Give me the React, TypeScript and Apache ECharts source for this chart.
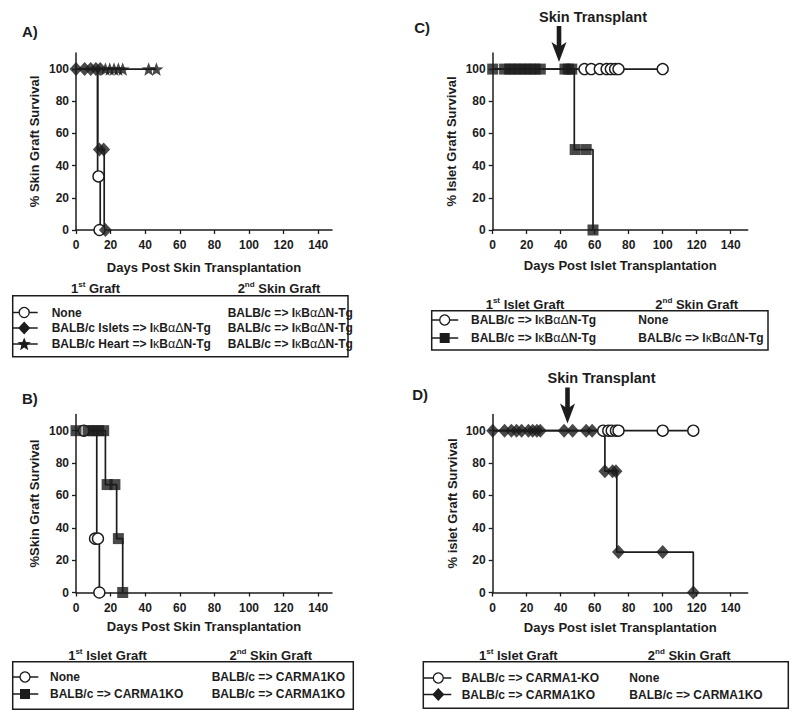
import { useEffect, useRef } from 'react';
import * as echarts from 'echarts';

const FONT = '"Liberation Sans", Arial, Helvetica, sans-serif';
const INK = '#1c1c1c';

// ---------------- data (day, % survival) ----------------
// Panel A
const aNoneCurve = [[0, 100], [12.5, 33.3], [14, 0]];
const aNoneMarks = [[13, 33.3], [13.6, 0]];
const aIsletsCurve = [[0, 100], [12.5, 50], [16.3, 0]];
const aIsletsMarks = [[0, 100], [5, 100], [8.5, 100], [11.5, 100], [14, 100], [13.5, 50], [16, 50], [17, 0]];
const aHeartCurve = [[0, 100], [46.5, 100]];
const aHeartMarks = [[17, 100], [19.5, 100], [22, 100], [24.5, 100], [27, 100], [42, 100], [46.5, 100]];

// Panel B
const bNoneCurve = [[0, 100], [12, 33.3], [13.5, 0]];
const bNoneMarks = [[4.5, 100], [11, 33.3], [12.7, 33.3], [13.5, 0]];
const bKoCurve = [[0, 100], [17, 66.7], [23.5, 33.3], [27, 0]];
const bKoMarks = [[0, 100], [7, 100], [10, 100], [13, 100], [16, 100], [18, 66.7], [22.5, 66.7], [24.5, 33.3], [27, 0]];

// Panel C
const cNoneCurve = [[0, 100], [100, 100]];
const cNoneMarks = [[54, 100], [58, 100], [63, 100], [67, 100], [69.5, 100], [72, 100], [74, 100], [100, 100]];
const cTgCurve = [[0, 100], [48, 50], [59, 0]];
const cTgMarks = [[0, 100], [7, 100], [10, 100], [13, 100], [16, 100], [19, 100], [22, 100], [25, 100], [28, 100],
  [42.5, 100], [44.5, 100], [46.5, 100], [48.5, 50], [55, 50], [59, 0]];
const cSkinTransplantDay = 39;

// Panel D
const dNoneCurve = [[0, 100], [118, 100]];
const dNoneMarks = [[65, 100], [68, 100], [70, 100], [72.5, 100], [74, 100], [100, 100], [118, 100]];
const dKoCurve = [[0, 100], [66, 75], [73, 25], [118, 0]];
const dKoMarks = [[0, 100], [7, 100], [11, 100], [14, 100], [17, 100], [21, 100], [23.5, 100], [26, 100], [28, 100],
  [42, 100], [47, 100], [55, 100], [58.5, 100], [66, 75], [70.5, 75], [72.5, 75], [74, 25], [100, 25], [118, 0]];
const dSkinTransplantDay = 44;

// ticks
const xTicks = [0, 20, 40, 60, 80, 100, 120, 140];
const yTicks = [0, 20, 40, 60, 80, 100];

// texts
const panelLabels = ['A)', 'C)', 'B)', 'D)'];
const xNames = ['Days Post Skin Transplantation', 'Days Post Islet Transplantation', 'Days Post Skin Transplantation', 'Days Post islet Transplantation'];
const yNames = ['% Skin Graft Survival', '% Islet Graft Survival', '%Skin Graft Survival', '% islet Graft Survival'];

const aLegendFirst = ['None', 'BALB/c Islets => IκBαΔN-Tg', 'BALB/c Heart => IκBαΔN-Tg'];
const aLegendSecond = ['BALB/c => IκBαΔN-Tg', 'BALB/c => IκBαΔN-Tg', 'BALB/c => IκBαΔN-Tg'];
const cLegendFirst = ['BALB/c => IκBαΔN-Tg', 'BALB/c => IκBαΔN-Tg'];
const cLegendSecond = ['None', 'BALB/c => IκBαΔN-Tg'];
const bLegendFirst = ['None', 'BALB/c => CARMA1KO'];
const bLegendSecond = ['BALB/c => CARMA1KO', 'BALB/c => CARMA1KO'];
const dLegendFirst = ['BALB/c => CARMA1-KO', 'BALB/c => CARMA1KO'];
const dLegendSecond = ['None', 'BALB/c => CARMA1KO'];

// ---------------- helpers ----------------
function starPoints(cx: number, cy: number, R: number, r: number) {
  const pts: number[][] = [];
  for (let i = 0; i < 10; i++) {
    const rad = i % 2 === 0 ? R : r;
    const a = -Math.PI / 2 + (i * Math.PI) / 5;
    pts.push([cx + rad * Math.cos(a), cy + rad * Math.sin(a)]);
  }
  return pts;
}
const STAR_SYMBOL = 'path://M' + starPoints(50, 50, 50, 21).map((p) => `${p[0].toFixed(2)},${p[1].toFixed(2)}`).join('L') + 'Z';

const txt = (size: number, weight: string) => ({ fontFamily: FONT, fontSize: size, fontWeight: weight, fill: INK, color: INK });

function toRich(s: string) {
  const parts = s.match(/[κΑαΔ]+|[^κΑαΔ]+/g) || [];
  return parts.map((p) => (/[κΑαΔ]/.test(p) ? `{g|${p}}` : `{b|${p}}`)).join('');
}
const rowRich = {
  b: { ...txt(12, 'bold') },
  g: { ...txt(12.5, 'normal') },
};

function headerRich(num: string, sup: string, rest: string) {
  return `{h|${num}}{s|${sup}}{h|${rest}}`;
}
const headRich = {
  h: { ...txt(13, 'bold'), lineHeight: 16 },
  s: { ...txt(8, 'bold'), lineHeight: 9, verticalAlign: 'top' },
};

type Sym = 'circle' | 'rect' | 'diamond' | 'star';
function symbolGraphic(sym: Sym, cx: number, cy: number) {
  if (sym === 'circle') return { type: 'circle', shape: { cx, cy, r: 5 }, style: { fill: '#fff', stroke: INK, lineWidth: 1.3 } };
  if (sym === 'rect') return { type: 'rect', shape: { x: cx - 5, y: cy - 5, width: 10, height: 10 }, style: { fill: INK } };
  if (sym === 'diamond') return { type: 'polygon', shape: { points: [[cx, cy - 6.5], [cx + 6, cy], [cx, cy + 6.5], [cx - 6, cy]] }, style: { fill: INK } };
  return { type: 'polygon', shape: { points: starPoints(cx, cy + 0.5, 7, 3) }, style: { fill: INK } };
}

interface LegendCfg {
  box: [number, number, number, number];
  headY: number;
  head1: [string, string, string, number];
  head2: [string, string, string, number];
  rowsY: number[];
  syms: Sym[];
  first: string[];
  second: string[];
  col1: number;
  col2: number;
  mark: number;
  lineEnd: number;
}
function legendGraphics(c: LegendCfg) {
  const [bx, by, bw, bh] = c.box;
  const els: any[] = [];
  els.push({ type: 'rect', shape: { x: bx, y: by, width: bw, height: bh }, style: { fill: 'none', stroke: INK, lineWidth: 1.5 } });
  els.push({ type: 'text', x: c.head1[3], y: c.headY, style: { text: headerRich(c.head1[0], c.head1[1], c.head1[2]), rich: headRich, align: 'center', verticalAlign: 'middle', ...txt(13, 'bold') } });
  els.push({ type: 'text', x: c.head2[3], y: c.headY, style: { text: headerRich(c.head2[0], c.head2[1], c.head2[2]), rich: headRich, align: 'center', verticalAlign: 'middle', ...txt(13, 'bold') } });
  c.rowsY.forEach((y, i) => {
    els.push({ type: 'line', shape: { x1: bx, y1: y, x2: bx + c.lineEnd, y2: y }, style: { stroke: INK, lineWidth: 1.5 } });
    els.push(symbolGraphic(c.syms[i], bx + c.mark, y));
    els.push({ type: 'text', x: c.col1, y, style: { text: toRich(c.first[i]), rich: rowRich, align: 'left', verticalAlign: 'middle', ...txt(12, 'bold') } });
    els.push({ type: 'text', x: c.col2, y, style: { text: toRich(c.second[i]), rich: rowRich, align: 'left', verticalAlign: 'middle', ...txt(12, 'bold') } });
  });
  return els;
}

function arrowGraphics(x: number, y110: number) {
  const tip = y110 + 9;
  const top = tip - 36;
  return [
    { type: 'rect', shape: { x: x - 2.3, y: top, width: 4.6, height: 22 }, style: { fill: INK } },
    { type: 'polygon', shape: { points: [[x - 7.5, tip - 20], [x, tip - 15], [x + 7.5, tip - 20], [x, tip]] }, style: { fill: INK } },
    { type: 'text', x: x + 34, y: tip - 45.5, style: { text: 'Skin Transplant', align: 'center', verticalAlign: 'middle', ...txt(14.5, 'bold') } },
  ];
}

// ---------------- option ----------------
function buildOption() {
  const grids = [
    { left: 76, top: 53, width: 256, height: 177 },
    { left: 492.7, top: 53, width: 255, height: 177 },
    { left: 76, top: 414.5, width: 256, height: 178 },
    { left: 492.7, top: 414.5, width: 255, height: 178 },
  ].map((g) => ({ ...g, containLabel: false, outerBoundsMode: 'none', show: false }));
  const xMax = [148, 150, 148, 150];
  const xGap = [31, 29, 27, 28];
  const yGap = [35, 35, 35, 34];

  const xAxis = grids.map((_, i) => ({
    type: 'value', gridIndex: i, min: 0, max: xMax[i],
    name: xNames[i], nameLocation: 'middle', nameGap: xGap[i],
    nameTextStyle: { fontFamily: FONT, fontWeight: 'bold', fontSize: 13, color: INK },
    axisLine: { show: true, onZero: false, lineStyle: { color: INK, width: 1.5 } },
    axisTick: { show: true, inside: false, length: 4, lineStyle: { color: INK, width: 1.3 }, customValues: xTicks },
    axisLabel: { customValues: xTicks, fontFamily: FONT, fontWeight: 'bold', fontSize: 12, color: INK, margin: 9 },
    splitLine: { show: false },
  }));
  const yAxis = grids.map((_, i) => ({
    type: 'value', gridIndex: i, min: 0, max: 110,
    name: yNames[i], nameLocation: 'middle', nameGap: yGap[i], nameRotate: 90,
    nameTextStyle: { fontFamily: FONT, fontWeight: 'bold', fontSize: 13, color: INK },
    axisLine: { show: true, onZero: false, lineStyle: { color: INK, width: 1.5 } },
    axisTick: { show: true, inside: false, length: 4, lineStyle: { color: INK, width: 1.3 }, customValues: yTicks },
    axisLabel: { customValues: yTicks, fontFamily: FONT, fontWeight: 'bold', fontSize: 12, color: INK, margin: 7 },
    splitLine: { show: false },
  }));

  const lineS = (gi: number, data: number[][]) => ({
    type: 'line', xAxisIndex: gi, yAxisIndex: gi, data, step: 'end', showSymbol: false, symbol: 'none',
    lineStyle: { color: INK, width: 1.7 }, clip: false, silent: true, z: 2,
  });
  const markS = (gi: number, data: number[][], symbol: string, size: any, filled: boolean) => ({
    type: 'scatter', xAxisIndex: gi, yAxisIndex: gi, data, symbol, symbolSize: size, clip: false, silent: true, z: 3,
    itemStyle: filled ? { color: INK } : { color: '#fff', borderColor: INK, borderWidth: 1.4, opacity: 1 },
  });

  const series = [
    // A (grid 0)
    lineS(0, aNoneCurve), lineS(0, aIsletsCurve), lineS(0, aHeartCurve),
    markS(0, aNoneMarks, 'circle', 11, false),
    markS(0, aHeartMarks, STAR_SYMBOL, [14, 13.5], true),
    markS(0, aIsletsMarks, 'diamond', [13, 14], true),
    // C (grid 1)
    lineS(1, cNoneCurve), lineS(1, cTgCurve),
    markS(1, cNoneMarks, 'circle', 11, false),
    markS(1, cTgMarks, 'rect', 11, true),
    // B (grid 2)
    lineS(2, bNoneCurve), lineS(2, bKoCurve),
    markS(2, bNoneMarks, 'circle', 11, false),
    markS(2, bKoMarks, 'rect', 11, true),
    // D (grid 3)
    lineS(3, dNoneCurve), lineS(3, dKoCurve),
    markS(3, dKoMarks, 'diamond', [13, 14], true),
    markS(3, dNoneMarks, 'circle', 11, false),
  ];

  return { animation: false, backgroundColor: '#fff', grid: grids, xAxis, yAxis, series };
}

function staticGraphics() {
  const els: any[] = [];
  const labelPos = [[22, 31, 'left'], [430, 27, 'right'], [22, 398.5, 'left'], [428, 394, 'right']];
  panelLabels.forEach((t, i) => {
    els.push({ type: 'text', x: labelPos[i][0], y: labelPos[i][1], style: { text: t, align: labelPos[i][2], verticalAlign: 'middle', ...txt(15, 'bold') } });
  });
  els.push(...legendGraphics({
    box: [12.7, 295.7, 335.3, 61], headY: 288,
    head1: ['1', 'st', ' Graft', 95.5], head2: ['2', 'nd', ' Skin Graft', 279],
    rowsY: [312.5, 328, 344], syms: ['circle', 'diamond', 'star'],
    first: aLegendFirst, second: aLegendSecond, col1: 51.7, col2: 227.7, mark: 11.5, lineEnd: 25,
  }));
  els.push(...legendGraphics({
    box: [431.7, 310.7, 336.3, 39.3], headY: 304,
    head1: ['1', 'st', ' Islet Graft', 525], head2: ['2', 'nd', ' Skin Graft', 696.7],
    rowsY: [320, 338], syms: ['circle', 'rect'],
    first: cLegendFirst, second: cLegendSecond, col1: 471, col2: 638.3, mark: 13, lineEnd: 26.5,
  }));
  els.push(...legendGraphics({
    box: [12.7, 661.7, 340.6, 47.6], headY: 655,
    head1: ['1', 'st', ' Islet Graft', 107.5], head2: ['2', 'nd', ' Skin Graft', 270.8],
    rowsY: [677, 694], syms: ['circle', 'rect'],
    first: bLegendFirst, second: bLegendSecond, col1: 50, col2: 211.7, mark: 12.3, lineEnd: 25.6,
  }));
  els.push(...legendGraphics({
    box: [423.3, 661.7, 365, 46.6], headY: 655,
    head1: ['1', 'st', ' Islet Graft', 518.3], head2: ['2', 'nd', ' Skin Graft', 689.2],
    rowsY: [678, 694.5], syms: ['circle', 'diamond'],
    first: dLegendFirst, second: dLegendSecond, col1: 461.7, col2: 629.3, mark: 15, lineEnd: 28,
  }));
  return els;
}

export default function App() {
  const ref = useRef<HTMLDivElement>(null);
  useEffect(() => {
    if (!ref.current) return;
    const chart = echarts.init(ref.current, undefined, { renderer: 'svg', width: 800, height: 721 });
    chart.setOption(buildOption() as any);
    const pc = chart.convertToPixel({ gridIndex: 1 } as any, [cSkinTransplantDay, 110]) as number[];
    const pd = chart.convertToPixel({ gridIndex: 3 } as any, [dSkinTransplantDay, 110]) as number[];
    const graphic = [...staticGraphics(), ...arrowGraphics(pc[0], pc[1]), ...arrowGraphics(pd[0], pd[1])];
    chart.setOption({ graphic: { elements: graphic.map((g) => ({ ...g, silent: true })) } } as any);
    return () => chart.dispose();
  }, []);
  return (
    <div
      ref={ref}
      style={{ position: 'absolute', left: 0, top: 0, width: 800, height: 721, background: '#fff' }}
    />
  );
}
